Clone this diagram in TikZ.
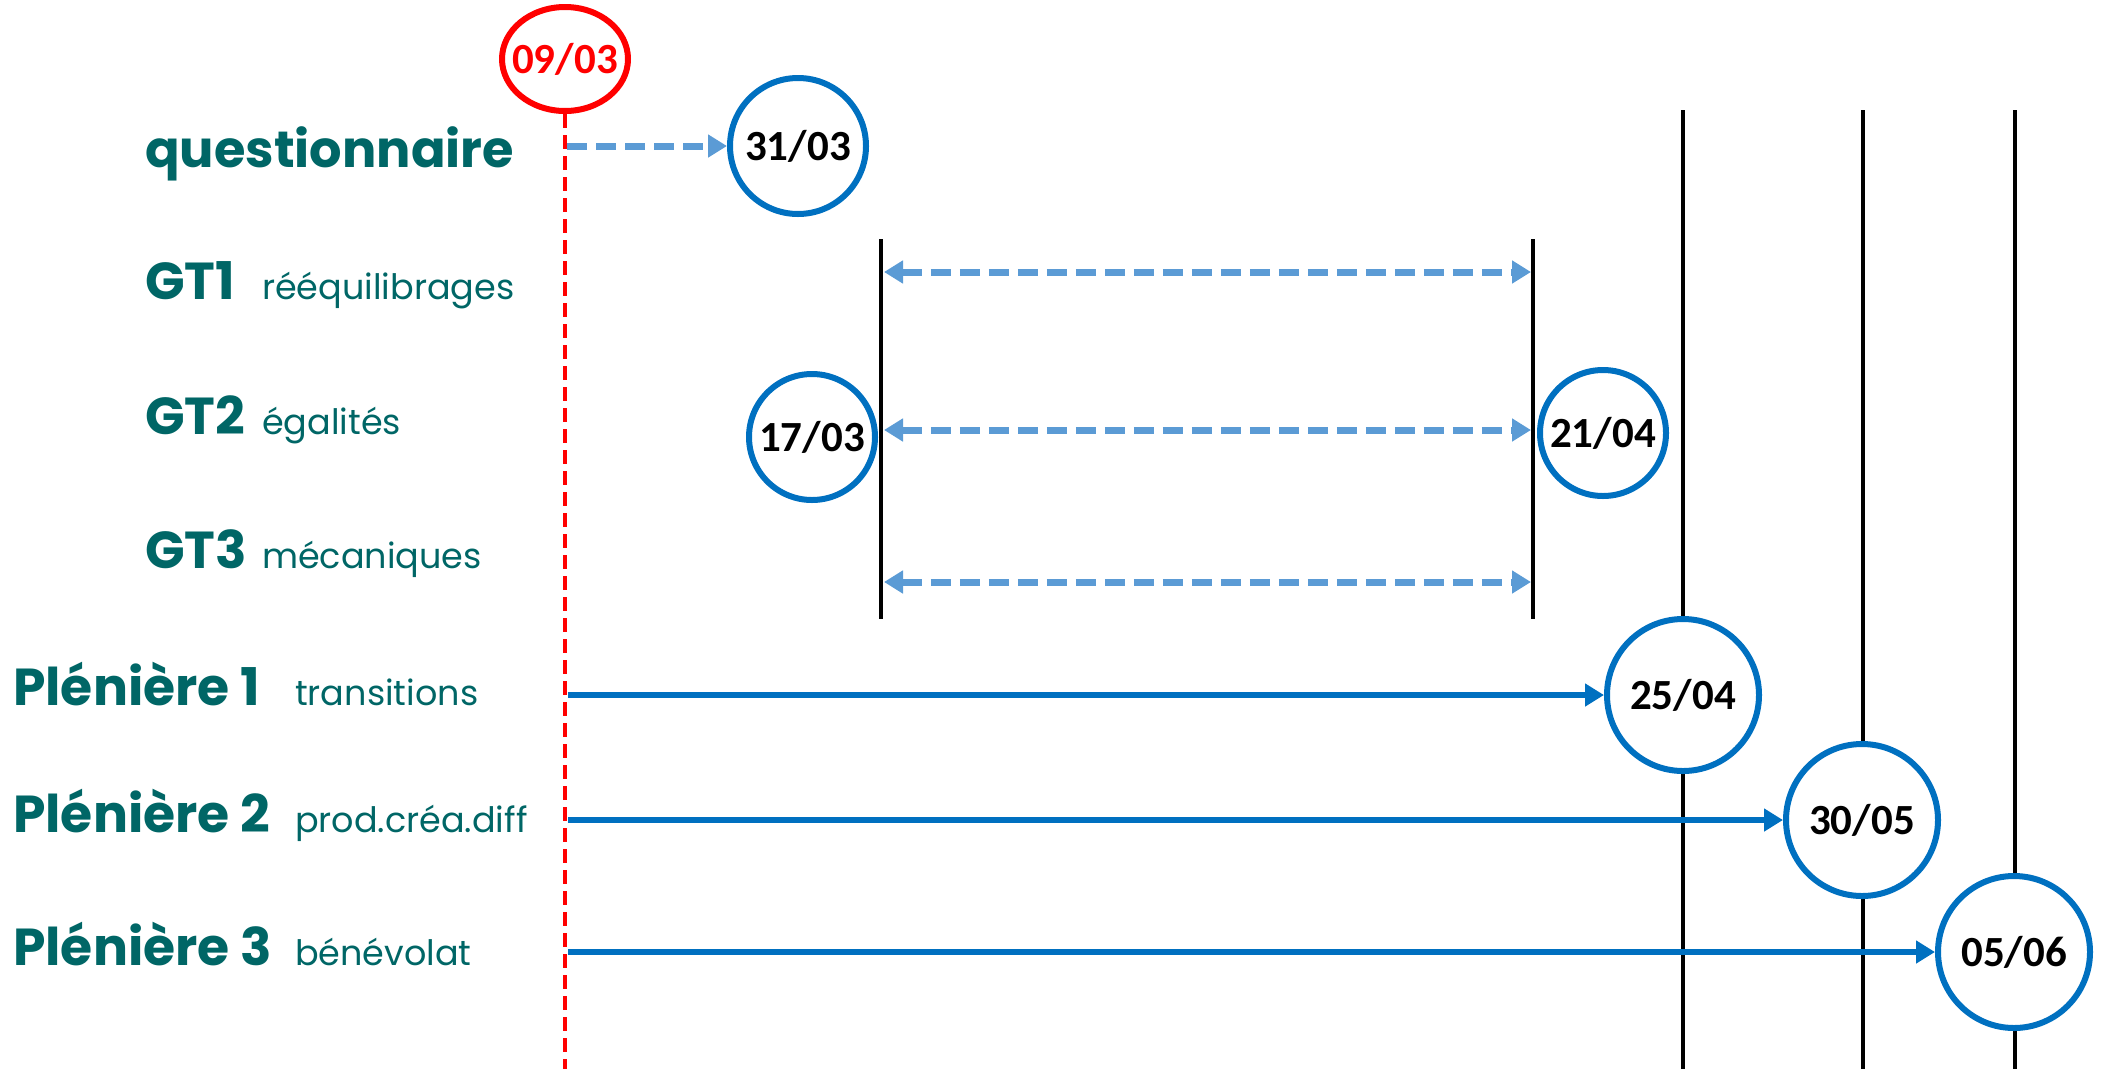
\documentclass[tikz,border=0pt]{standalone}
\usepackage{fontspec}
\setmainfont{Poppins}
\newfontfamily\datefont{Carlito}
\usetikzlibrary{arrows.meta,shapes.geometric}
\definecolor{labteal}{RGB}{0,102,102}
\definecolor{circblue}{RGB}{0,112,192}
\definecolor{lightblue}{RGB}{91,155,213}
\definecolor{datered}{RGB}{255,0,0}
\begin{document}
\begin{tikzpicture}[x=1pt,y=-1pt,
  bigtxt/.style={font=\fontsize{52}{52}\selectfont\bfseries, text=labteal, anchor=base west, inner sep=0},
  smalltxt/.style={font=\fontsize{35}{35}\selectfont, text=labteal, anchor=base west, inner sep=0},
  datecirc/.style={circle, draw=circblue, line width=6pt, fill=white, inner sep=0, font=\datefont\bfseries\fontsize{43}{43}\selectfont, text=black},
  redcirc/.style={ellipse, draw=datered, line width=6pt, fill=white, inner xsep=-20pt, inner ysep=-10pt, minimum width=126pt, minimum height=104pt, font=\datefont\bfseries\fontsize{43}{43}\selectfont, text=datered},
  reddash/.style={draw=datered, line width=4.5pt, dash pattern=on 14pt off 7pt},
  blackline/.style={draw=black, line width=4pt},
  dasharrow/.style={draw=lightblue, line width=7pt, dash pattern=on 20pt off 9pt, -{Triangle[length=19pt,width=22pt]}},
  dasharrows/.style={draw=lightblue, line width=7pt, dash pattern=on 20pt off 9pt, {Triangle[length=19pt,width=22pt]}-{Triangle[length=19pt,width=22pt]}},
  solidarrow/.style={draw=circblue, line width=6pt, -{Triangle[length=19pt,width=22pt]}}
]
\useasboundingbox (0,0) rectangle (2109,1069);

% labels
\node[bigtxt, font=\fontsize{51}{51}\selectfont\bfseries] (lq) at (145,167) {questionnaire};
\node[bigtxt] (lg1) at (145,299) {GT1};
\node[smalltxt] (sg1) at (262,299) {rééquilibrages};
\node[bigtxt] (lg2) at (145,434) {GT2};
\node[smalltxt] (sg2) at (262,434) {égalités};
\node[bigtxt] (lg3) at (145,568) {GT3};
\node[smalltxt] (sg3) at (262,568) {mécaniques};
\node[bigtxt] (lp1) at (13,705) {Plénière 1};
\node[smalltxt] (sp1) at (295,705) {transitions};
\node[bigtxt] (lp2) at (13,832) {Plénière 2};
\node[smalltxt] (sp2) at (295,832) {prod.créa.diff};
\node[bigtxt] (lp3) at (13,965) {Plénière 3};
\node[smalltxt] (sp3) at (295,965) {bénévolat};

% long black lines
\coordinate (v1t) at (1683,110); \coordinate (v1b) at (1683,1069);
\coordinate (v2t) at (1863,110); \coordinate (v2b) at (1863,1069);
\coordinate (v3t) at (2015,110); \coordinate (v3b) at (2015,1069);
\draw[blackline] (v1t) -- (v1b);
\draw[blackline] (v2t) -- (v2b);
\draw[blackline] (v3t) -- (v3b);

% GT bracket lines
\coordinate (L1t) at (881,239); \coordinate (L1b) at (881,619);
\coordinate (L2t) at (1533,239); \coordinate (L2b) at (1533,619);
\draw[blackline] (L1t) -- (L1b);
\draw[blackline] (L2t) -- (L2b);

% red start
\node[redcirc] (d0903) at (565,59) {09/03};
\coordinate (redbot) at (565,1069);
\draw[reddash] (d0903.south) -- (redbot);

% date circles
\node[datecirc, minimum size=136pt] (d3103) at (798,146) {31/03};
\node[datecirc, minimum size=126pt] (d1703) at (812,437) {17/03};
\node[datecirc, minimum size=126pt] (d2104) at (1603,433) {21/04};
\node[datecirc, minimum size=152pt] (d2504) at (1683,695) {25/04};
\node[datecirc, minimum size=152pt] (d3005) at (1862,820) {30/05};
\node[datecirc, minimum size=152pt] (d0506) at (2014,952) {05/06};

% questionnaire arrow
\coordinate (q0) at (567,146);
\draw[dasharrow] (q0) -- (d3103.west);

% GT arrows
\coordinate (g1l) at (884,272); \coordinate (g1r) at (1531,272);
\coordinate (g2l) at (884,430); \coordinate (g2r) at (1531,430);
\coordinate (g3l) at (884,582); \coordinate (g3r) at (1531,582);
\draw[dasharrows] (g1l) -- (g1r);
\draw[dasharrows] (g2l) -- (g2r);
\draw[dasharrows] (g3l) -- (g3r);

% plenary arrows
\coordinate (p1) at (568,695);
\coordinate (p2) at (568,820);
\coordinate (p3) at (568,952);
\draw[solidarrow] (p1) -- (d2504.west);
\draw[solidarrow] (p2) -- (d3005.west);
\draw[solidarrow] (p3) -- (d0506.west);
\end{tikzpicture}
\end{document}
